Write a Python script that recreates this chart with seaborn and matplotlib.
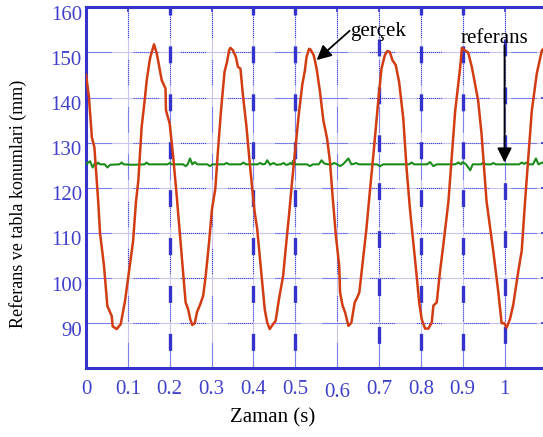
import matplotlib
matplotlib.use("Agg")
import matplotlib.pyplot as plt
import matplotlib.transforms as mtransforms
import pandas as pd
import seaborn as sns

# Measured table position (gercek) over time
time_actual = [0, 0.007, 0.014, 0.02, 0.029, 0.0335, 0.043, 0.051, 0.0614, 0.0638,
               0.0734, 0.083, 0.0932, 0.1004, 0.1123, 0.1195, 0.125, 0.133, 0.141, 0.145,
               0.153, 0.1625, 0.169, 0.181, 0.19, 0.191, 0.2, 0.208, 0.216, 0.222,
               0.228, 0.233, 0.238, 0.244, 0.249, 0.254, 0.26, 0.265, 0.273, 0.28,
               0.286, 0.294, 0.301, 0.309, 0.315, 0.323, 0.331, 0.337, 0.342, 0.345,
               0.351, 0.358, 0.363, 0.369, 0.375, 0.383, 0.391, 0.398, 0.403, 0.409,
               0.415, 0.421, 0.427, 0.433, 0.439, 0.447, 0.453, 0.461, 0.471, 0.477,
               0.485, 0.493, 0.501, 0.509, 0.517, 0.523, 0.527, 0.533, 0.536, 0.544,
               0.551, 0.559, 0.567, 0.576, 0.583, 0.589, 0.597, 0.605, 0.607, 0.613,
               0.619, 0.627, 0.634, 0.642, 0.648, 0.653, 0.662, 0.67, 0.678, 0.688,
               0.698, 0.706, 0.714, 0.72, 0.726, 0.732, 0.74, 0.748, 0.758, 0.766,
               0.774, 0.782, 0.79, 0.796, 0.802, 0.81, 0.818, 0.826, 0.83, 0.838,
               0.846, 0.852, 0.866, 0.882, 0.894, 0.898, 0.906, 0.913, 0.922, 0.929,
               0.937, 0.945, 0.957, 0.973, 0.985, 0.993, 0.999, 1.005, 1.013, 1.021,
               1.033, 1.041, 1.049, 1.065, 1.077, 1.089, 1.1]
pos_actual = [145.2, 140.1, 131.2, 129.0, 117.2, 110.0, 102.7, 93.8, 91.6, 89.3,
              88.7, 89.8, 94.9, 99.8, 108.0, 117.0, 121.6, 133.5, 140.1, 143.8,
              148.7, 151.8, 149.8, 143.8, 142.0, 137.2, 134.2, 127.2, 119.0, 112.4,
              105.7, 100.5, 94.6, 93.1, 90.9, 89.6, 90.0, 92.4, 94.2, 96.1,
              100.5, 107.9, 115.3, 119.8, 127.9, 137.6, 145.7, 147.9, 150.5, 151.0,
              150.5, 149.0, 146.8, 146.4, 140.5, 133.9, 125.7, 119.0, 114.6, 110.9,
              105.0, 99.0, 93.1, 90.1, 88.7, 89.8, 90.5, 95.3, 100.5, 106.4,
              113.9, 122.0, 129.4, 136.8, 143.0, 146.0, 149.0, 150.8, 150.7, 149.4,
              146.4, 141.3, 135.0, 130.9, 125.7, 118.3, 109.4, 102.7, 96.8, 93.9,
              92.4, 89.4, 90.1, 94.6, 95.7, 96.8, 104.2, 110.9, 119.0, 128.7,
              139.0, 146.4, 149.4, 150.3, 150.1, 148.3, 147.2, 143.5, 135.4, 124.2,
              115.3, 107.9, 100.5, 94.6, 90.9, 88.8, 88.8, 90.1, 93.9, 94.6,
              101.6, 106.0, 117.0, 137.0, 146.7, 151.0, 150.4, 150.0, 146.7, 143.3,
              139.3, 132.0, 117.0, 106.0, 97.0, 90.0, 90.0, 89.0, 90.9, 94.2,
              101.6, 106.0, 117.0, 137.0, 145.3, 150.4, 151.5]

# Reference position (referans) over time
time_ref = [0, 0.0096, 0.016, 0.0215, 0.026, 0.029, 0.034, 0.045, 0.051, 0.058,
            0.08, 0.085, 0.09, 0.11, 0.14, 0.145, 0.15, 0.195, 0.2, 0.205,
            0.232, 0.238, 0.243, 0.2485, 0.254, 0.26, 0.266, 0.29, 0.296, 0.302,
            0.33, 0.336, 0.342, 0.37, 0.376, 0.382, 0.41, 0.416, 0.422, 0.428,
            0.433, 0.44, 0.448, 0.455, 0.466, 0.472, 0.478, 0.484, 0.488, 0.492,
            0.495, 0.5, 0.528, 0.535, 0.542, 0.556, 0.563, 0.568, 0.572, 0.58,
            0.587, 0.593, 0.6, 0.607, 0.615, 0.627, 0.634, 0.64, 0.645, 0.652,
            0.695, 0.703, 0.71, 0.72, 0.772, 0.778, 0.784, 0.815, 0.822, 0.83,
            0.838, 0.882, 0.89, 0.896, 0.9, 0.908, 0.918, 0.924, 0.944, 0.949,
            0.955, 0.968, 0.973, 0.979, 1.035, 1.041, 1.047, 1.053, 1.058, 1.068,
            1.075, 1.081, 1.09, 1.096, 1.1]
pos_ref = [125.2, 125.9, 124.5, 125.5, 125.2, 125.6, 125.2, 125.2, 124.5, 125.1,
           125.2, 125.6, 125.2, 125.1, 125.2, 125.6, 125.2, 125.2, 125.5, 125.2,
           125.2, 124.8, 125.2, 126.5, 125.2, 125.7, 125.2, 125.2, 124.8, 125.2,
           125.2, 125.5, 125.2, 125.2, 125.6, 125.2, 125.2, 125.5, 125.2, 125.3,
           126.1, 125.1, 125.5, 125.1, 125.2, 125.5, 125.1, 125.2, 125.5, 125.2,
           126.0, 125.2, 125.2, 124.8, 125.2, 125.2, 126.1, 125.5, 125.3, 125.2,
           125.2, 125.5, 125.2, 124.8, 125.3, 126.5, 125.2, 125.3, 125.5, 125.2,
           125.2, 124.8, 125.2, 125.2, 125.2, 125.6, 125.2, 125.2, 125.7, 124.8,
           125.2, 125.2, 125.6, 125.2, 125.7, 125.2, 123.9, 125.2, 125.2, 125.6,
           125.2, 125.2, 125.5, 125.2, 125.2, 125.6, 125.3, 125.6, 125.2, 125.2,
           126.5, 125.2, 125.6, 125.2, 125.2]

x_ticks = [0, 0.1, 0.2, 0.3, 0.4, 0.5, 0.6, 0.7, 0.8, 0.9, 1.0]
x_tick_labels = ["0", "0.1", "0.2", "0.3", "0.4", "0.5", "0.6", "0.7", "0.8", "0.9", "1"]
y_ticks = [90, 100, 110, 120, 130, 140, 150, 160]
switch_times = [0.2, 0.4, 0.5, 0.7, 0.8, 0.9, 1.0]

# annotation anchors: (text position, arrow tail, arrow head)
label_actual = "gerçek"
label_ref = "referans"
actual_text_xy = (0.632, 153.6)
actual_arrow = ((0.630, 154.8), (0.551, 148.3))
ref_text_xy = (0.894, 152.0)
ref_arrow = ((1.0, 151.6), (1.0, 125.6))

AX_BLUE = "#3434cc"
TXT_BLUE = "#4040cc"
RED = "#d23c12"
GREEN = "#1a8c1a"
GRID_LIGHT = "#c6c6f0"
GRID_DOT = "#3a3ae0"

sns.set_theme(style="white")
plt.rcParams["font.family"] = ["Liberation Serif", "DejaVu Serif"]
plt.rcParams["lines.scale_dashes"] = False

fig = plt.figure(figsize=(5.43, 4.37), dpi=100)
ax = fig.add_axes([86 / 543, 68.7 / 437, 460.4 / 543, 361 / 437])
ax.set_xlim(0, 1.1)
ax.set_ylim(80, 160)

# light solid grid with a dotted overlay
ax.set_xticks(x_ticks)
ax.set_xticklabels(x_tick_labels)
ax.set_yticks(y_ticks)
ax.grid(True, color=GRID_LIGHT, lw=0.8, zorder=0)
dot_pattern = (0, tuple([0.72, 0.72] * 12 + [0.72, 16.0]))
ax.vlines(x_ticks, 80, 160, colors=GRID_DOT, linewidth=0.8, linestyles=[dot_pattern], zorder=1)
ax.hlines(y_ticks, 0, 1.1, colors=GRID_DOT, linewidth=0.8, linestyles=[dot_pattern], zorder=1)

# thick dashed markers
for t in switch_times:
    phase = 11.5 if t in (0.7, 1.0) else 6.5
    ax.vlines([t], 160, 80, colors=AX_BLUE, linewidth=2.4,
              linestyles=[(phase, (12.2, 22.3))], zorder=2)

df_act = pd.DataFrame({"t": time_actual, "pos": pos_actual})
df_ref = pd.DataFrame({"t": time_ref, "pos": pos_ref})
sns.lineplot(data=df_ref, x="t", y="pos", color=GREEN, lw=1.5, ax=ax,
             estimator=None, sort=False, zorder=3)
sns.lineplot(data=df_act, x="t", y="pos", color=RED, lw=1.8, ax=ax,
             estimator=None, sort=False, zorder=4)

arrow_kw = dict(arrowstyle="-|>", color="black", lw=1.3, mutation_scale=22,
                shrinkA=0, shrinkB=0)
ax.annotate("", xy=actual_arrow[1], xytext=actual_arrow[0], arrowprops=arrow_kw, zorder=5)
ax.annotate("", xy=ref_arrow[1], xytext=ref_arrow[0], arrowprops=arrow_kw, zorder=5)
ax.text(*actual_text_xy, label_actual, fontsize=15, ha="left", va="baseline", color="black")
ax.text(*ref_text_xy, label_ref, fontsize=15, ha="left", va="baseline", color="black")

for side in ["left", "bottom", "top", "right"]:
    ax.spines[side].set_color(AX_BLUE)
    ax.spines[side].set_linewidth(2.2)
    ax.spines[side].set_visible(True)

ax.tick_params(axis="both", direction="in", length=3.5, width=1.2, color=AX_BLUE,
               labelcolor=TXT_BLUE, labelsize=15, top=True, right=True)
ax.tick_params(axis="x", pad=8.5)
ax.tick_params(axis="y", pad=3)

ax.set_xlabel("Zaman (s)", fontsize=15, color="black")
ax.set_ylabel("Referans ve tabla konumlari (mm)", fontsize=13, color="black")
ax.xaxis.set_label_coords(0.405, -0.11)
ax.yaxis.set_label_coords(-0.128, 0.4565)

# y labels sit slightly below their grid lines; the 0.6 label sits a little lower
fig.canvas.draw()
y_shift = mtransforms.ScaledTranslation(0, -0.055, fig.dpi_scale_trans)
for lab in ax.get_yticklabels():
    lab.set_transform(lab.get_transform() + y_shift)
x_shift = mtransforms.ScaledTranslation(0, -0.03, fig.dpi_scale_trans)
for lab in ax.get_xticklabels():
    if lab.get_text() == "0.6":
        lab.set_transform(lab.get_transform() + x_shift)

fig.savefig("out.png", dpi=100)
